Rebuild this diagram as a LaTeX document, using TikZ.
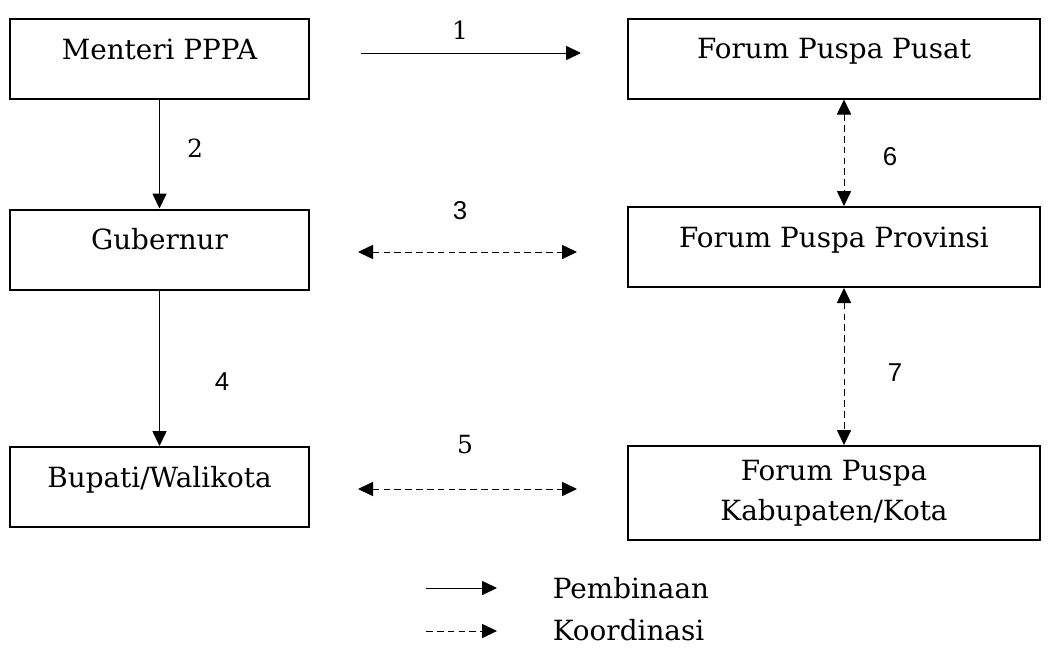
\documentclass[tikz,border=0pt]{standalone}
\usepackage{fontspec}
\setmainfont{DejaVu Serif}
\setsansfont{Liberation Sans}
\usetikzlibrary{arrows.meta}
\tikzset{
  box/.style={draw, line width=1.2pt, inner sep=0pt, align=center, font=\fontsize{16.7}{22}\selectfont},
  satu/.style={text height=24pt, text depth=24pt},
  kiri/.style={box, minimum width=179.4pt},
  kanan/.style={box, minimum width=247.2pt},
  bina/.style={-{Triangle[length=9pt,width=8.5pt]}, line width=0.6pt},
  koord/.style={{Triangle[length=9pt,width=8.5pt]}-{Triangle[length=9pt,width=8.5pt]}, line width=0.6pt, dash pattern=on 4pt off 2.5pt},
  angka/.style={font=\fontsize{15}{18}\selectfont},
  angkasf/.style={font=\sffamily\fontsize{15.5}{18}\selectfont},
}
\begin{document}
\begin{tikzpicture}[x=0.6pt,y=-0.6pt]
 \useasboundingbox (0,0) rectangle (1049,649);
 \node[kiri,satu] (menteri) at (159.5,59) {Menteri PPPA};
 \node[kiri,satu] (gubernur) at (159.5,249.5) {Gubernur};
 \node[kiri,satu] (bupati) at (159.5,487) {Bupati/Walikota};
 \node[kanan,satu] (pusat) at (834,58.5) {Forum Puspa Pusat};
 \node[kanan,satu] (provinsi) at (834,247) {Forum Puspa Provinsi};
 \node[kanan,minimum height=56.4pt] (kabkota) at (834,493) {Forum Puspa\\[2pt] Kabupaten/Kota};
 \draw[bina] (menteri.south) -- (gubernur.north);
 \draw[bina] (gubernur.south) -- (bupati.north);
 \draw[koord] ([xshift=6pt]pusat.south) -- ([xshift=6pt]provinsi.north);
 \draw[koord] ([xshift=6pt]provinsi.south) -- ([xshift=6pt]kabkota.north);
 \coordinate (a1) at (361,53);
 \coordinate (b1) at (581,53);
 \coordinate (a3) at (358,252);
 \coordinate (b3) at (577,252);
 \coordinate (a5) at (358,489);
 \coordinate (b5) at (577,489);
 \draw[bina] (a1) -- (b1);
 \draw[koord] (a3) -- (b3);
 \draw[koord] (a5) -- (b5);
 \node[angka] (l1) at (460,30) {1};
 \node[angka] (l2) at (195,148) {2};
 \node[angkasf] (l3) at (460,211) {3};
 \node[angkasf] (l4) at (222,382) {4};
 \node[angka] (l5) at (465,445) {5};
 \node[angkasf] (l6) at (890,157) {6};
 \node[angkasf] (l7) at (895,373) {7};
 % keterangan
 \coordinate (s1) at (426,588);
 \coordinate (s2) at (497,588);
 \coordinate (d1) at (426,631);
 \coordinate (d2) at (497,631);
 \draw[bina] (s1) -- (s2);
 \draw[-{Triangle[length=9pt,width=8.5pt]}, line width=0.6pt, dash pattern=on 4pt off 2.5pt] (d1) -- (d2);
 \node[font=\fontsize{16.7}{22}\selectfont,anchor=base west] (tbina) at (547,598) {Pembinaan};
 \node[font=\fontsize{16.7}{22}\selectfont,anchor=base west] (tkoord) at (547,640) {Koordinasi};
\end{tikzpicture}
\end{document}
